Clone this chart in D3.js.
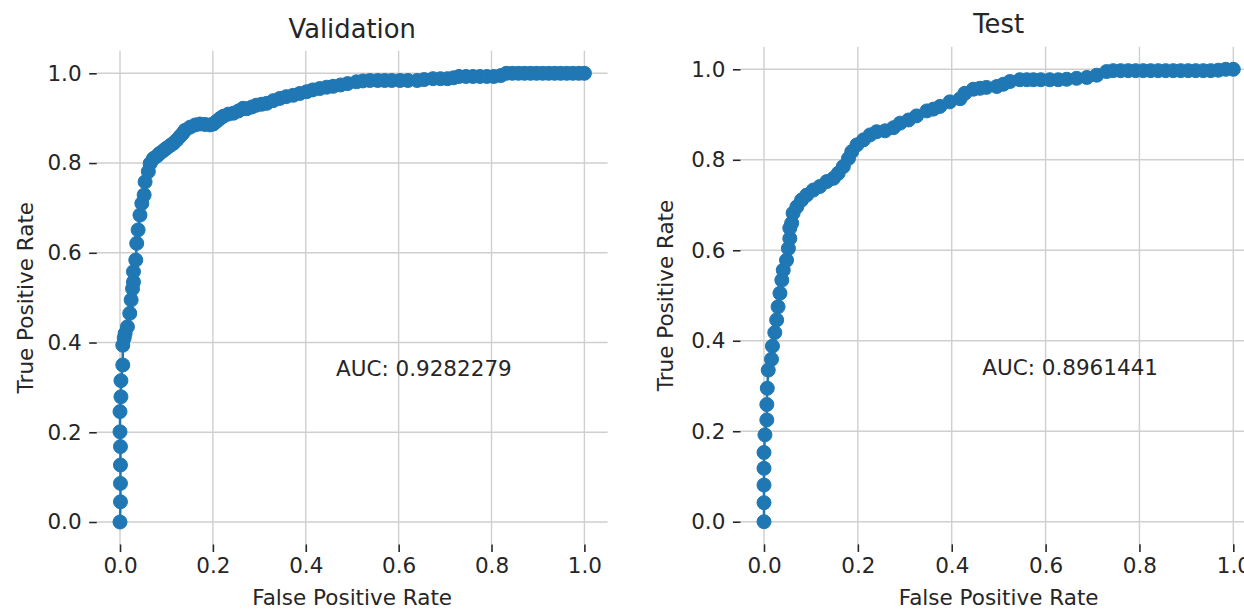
<!DOCTYPE html>
<html>
<head>
<meta charset="utf-8">
<script src="https://cdn.jsdelivr.net/npm/d3@7"></script>
<style>
  body { margin: 0; background: #fff; }
  text { font-family: "DejaVu Sans", sans-serif; fill: #262626; }
</style>
</head>
<body>
<div id="chart"></div>
<script>
// ROC points
var valFpr = [0.000, 0.001, 0.001, 0.001, 0.001, 0.000, 0.000, 0.002, 0.002, 0.006,
              0.006, 0.009, 0.011, 0.016, 0.021, 0.024, 0.027, 0.029, 0.029, 0.034,
              0.036, 0.039, 0.043, 0.047, 0.052, 0.054, 0.061, 0.065, 0.072, 0.080,
              0.086, 0.094, 0.100, 0.108, 0.115, 0.122, 0.129, 0.135, 0.140, 0.151,
              0.162, 0.172, 0.183, 0.194, 0.201, 0.208, 0.215, 0.222, 0.233, 0.244,
              0.255, 0.265, 0.273, 0.284, 0.294, 0.305, 0.316, 0.330, 0.344, 0.358,
              0.373, 0.387, 0.402, 0.415, 0.430, 0.445, 0.459, 0.475, 0.490, 0.509,
              0.523, 0.538, 0.555, 0.570, 0.585, 0.603, 0.620, 0.640, 0.655, 0.674,
              0.690, 0.705, 0.718, 0.730, 0.745, 0.760, 0.775, 0.790, 0.805, 0.820,
              0.832, 0.845, 0.858, 0.871, 0.884, 0.897, 0.910, 0.923, 0.936, 0.949,
              0.962, 0.975, 0.988, 1.000];
var valTpr = [0.000, 0.045, 0.086, 0.127, 0.168, 0.201, 0.246, 0.279, 0.315, 0.350,
              0.394, 0.410, 0.420, 0.435, 0.465, 0.495, 0.520, 0.535, 0.558, 0.584,
              0.621, 0.651, 0.684, 0.710, 0.729, 0.758, 0.781, 0.799, 0.810, 0.816,
              0.822, 0.828, 0.833, 0.839, 0.844, 0.851, 0.859, 0.866, 0.873, 0.880,
              0.885, 0.887, 0.886, 0.885, 0.887, 0.893, 0.899, 0.904, 0.909, 0.911,
              0.916, 0.922, 0.921, 0.925, 0.929, 0.931, 0.933, 0.939, 0.944, 0.948,
              0.951, 0.955, 0.959, 0.963, 0.966, 0.969, 0.971, 0.974, 0.977, 0.981,
              0.983, 0.984, 0.984, 0.984, 0.984, 0.984, 0.984, 0.984, 0.986, 0.988,
              0.988, 0.988, 0.990, 0.993, 0.993, 0.993, 0.993, 0.993, 0.993, 0.995,
              1.000, 1.000, 1.000, 1.000, 1.000, 1.000, 1.000, 1.000, 1.000, 1.000,
              1.000, 1.000, 1.000, 1.000];

var testFpr = [0.000, 0.000, 0.000, 0.000, 0.000, 0.002, 0.006, 0.006, 0.007, 0.009,
               0.016, 0.018, 0.023, 0.027, 0.030, 0.034, 0.038, 0.041, 0.048, 0.052,
               0.055, 0.055, 0.059, 0.062, 0.070, 0.080, 0.091, 0.105, 0.119, 0.134,
               0.148, 0.158, 0.169, 0.180, 0.187, 0.198, 0.212, 0.226, 0.240, 0.258,
               0.276, 0.290, 0.308, 0.325, 0.347, 0.361, 0.375, 0.396, 0.418, 0.428,
               0.446, 0.460, 0.474, 0.496, 0.510, 0.524, 0.545, 0.560, 0.574, 0.590,
               0.609, 0.627, 0.645, 0.666, 0.688, 0.709, 0.730, 0.744, 0.760, 0.776,
               0.792, 0.808, 0.824, 0.840, 0.856, 0.872, 0.888, 0.904, 0.920, 0.936,
               0.952, 0.968, 0.984, 1.000];
var testTpr = [0.000, 0.042, 0.081, 0.118, 0.153, 0.192, 0.225, 0.259, 0.295, 0.335,
               0.359, 0.388, 0.418, 0.446, 0.475, 0.505, 0.534, 0.556, 0.578, 0.604,
               0.626, 0.649, 0.660, 0.682, 0.696, 0.711, 0.722, 0.733, 0.741, 0.752,
               0.759, 0.770, 0.785, 0.803, 0.818, 0.833, 0.844, 0.855, 0.862, 0.864,
               0.871, 0.881, 0.888, 0.897, 0.908, 0.912, 0.918, 0.928, 0.935, 0.947,
               0.956, 0.958, 0.960, 0.962, 0.967, 0.973, 0.977, 0.977, 0.977, 0.977,
               0.977, 0.977, 0.978, 0.980, 0.982, 0.987, 0.995, 0.997, 0.997, 0.997,
               0.997, 0.997, 0.997, 0.997, 0.997, 0.997, 0.997, 0.997, 0.997, 0.997,
               0.997, 0.998, 1.000, 1.000];

var tickValues = [0, 0.2, 0.4, 0.6, 0.8, 1.0];
var titles = ["Validation", "Test"];
var aucLabels = ["AUC: 0.9282279", "AUC: 0.8961441"];

var width = 1244, height = 611;
var blue = "#1f77b4";
var fontSize = 21.5, titleSize = 25.8, tickLen = 7.6;

var svg = d3.select("#chart").append("svg")
    .attr("width", width)
    .attr("height", height);

// pixel spots of 0 and 1 on each panel
var panels = [
    { fpr: valFpr, tpr: valTpr, title: titles[0], auc: aucLabels[0],
      x0: 120, x1: 584.4, y0: 522, y1: 73.3, titleY: 38, labelX: 33 },
    { fpr: testFpr, tpr: testTpr, title: titles[1], auc: aucLabels[1],
      x0: 764, x1: 1233.3, y0: 521.7, y1: 69.3, titleY: 33, labelX: 673 }
];

panels.forEach(function(p) {
    var x = d3.scaleLinear().domain([0, 1]).range([p.x0, p.x1]);
    var y = d3.scaleLinear().domain([0, 1]).range([p.y0, p.y1]);
    var left = x(-0.05), right = x(1.05), top = y(1.05), bottom = y(-0.05);

    var g = svg.append("g");

    // grid
    g.selectAll(".vgrid")
        .data(tickValues)
        .enter().append("line")
        .attr("x1", function(d) { return x(d) })
        .attr("x2", function(d) { return x(d) })
        .attr("y1", top)
        .attr("y2", bottom)
        .attr("stroke", "#cfcfcf")
        .attr("stroke-width", 1.4);
    g.selectAll(".hgrid")
        .data(tickValues)
        .enter().append("line")
        .attr("y1", function(d) { return y(d) })
        .attr("y2", function(d) { return y(d) })
        .attr("x1", left)
        .attr("x2", right)
        .attr("stroke", "#cfcfcf")
        .attr("stroke-width", 1.4);

    // axes without spines
    var xAxis = g.append("g")
        .attr("transform", "translate(0," + bottom + ")")
        .call(d3.axisBottom(x).tickValues(tickValues).tickFormat(d3.format(".1f"))
            .tickSize(tickLen).tickPadding(6));
    var yAxis = g.append("g")
        .attr("transform", "translate(" + left + ",0)")
        .call(d3.axisLeft(y).tickValues(tickValues).tickFormat(d3.format(".1f"))
            .tickSize(tickLen).tickPadding(7.6));
    [xAxis, yAxis].forEach(function(a) {
        a.select(".domain").remove();
        a.selectAll(".tick line").attr("stroke", "#262626").attr("stroke-width", 1.6);
        a.selectAll(".tick text")
            .style("font-family", "DejaVu Sans")
            .style("font-size", fontSize + "px")
            .attr("fill", "#262626");
    });

    // curve: line plus round markers
    var pts = p.fpr.map(function(d, i) { return [d, p.tpr[i]] });
    var line = d3.line()
        .x(function(d) { return x(d[0]) })
        .y(function(d) { return y(d[1]) });
    g.append("path")
        .datum(pts)
        .attr("d", line)
        .attr("fill", "none")
        .attr("stroke", blue)
        .attr("stroke-width", 2.5);
    g.selectAll(".dot")
        .data(pts)
        .enter().append("circle")
        .attr("class", "dot")
        .attr("cx", function(d) { return x(d[0]) })
        .attr("cy", function(d) { return y(d[1]) })
        .attr("r", 7)
        .attr("fill", blue)
        .attr("stroke", blue)
        .attr("stroke-width", 1);

    // texts
    g.append("text")
        .attr("x", (left + right) / 2)
        .attr("y", p.titleY)
        .attr("text-anchor", "middle")
        .style("font-size", titleSize + "px")
        .text(p.title);
    g.append("text")
        .attr("x", (left + right) / 2)
        .attr("y", 605)
        .attr("text-anchor", "middle")
        .style("font-size", fontSize + "px")
        .text("False Positive Rate");
    g.append("text")
        .attr("transform", "translate(" + p.labelX + "," + (top + bottom) / 2 + ") rotate(-90)")
        .attr("text-anchor", "middle")
        .style("font-size", fontSize + "px")
        .text("True Positive Rate");
    g.append("text")
        .attr("x", x(0.465))
        .attr("y", y(0.325))
        .style("font-size", fontSize + "px")
        .text(p.auc);
});
</script>
</body>
</html>
